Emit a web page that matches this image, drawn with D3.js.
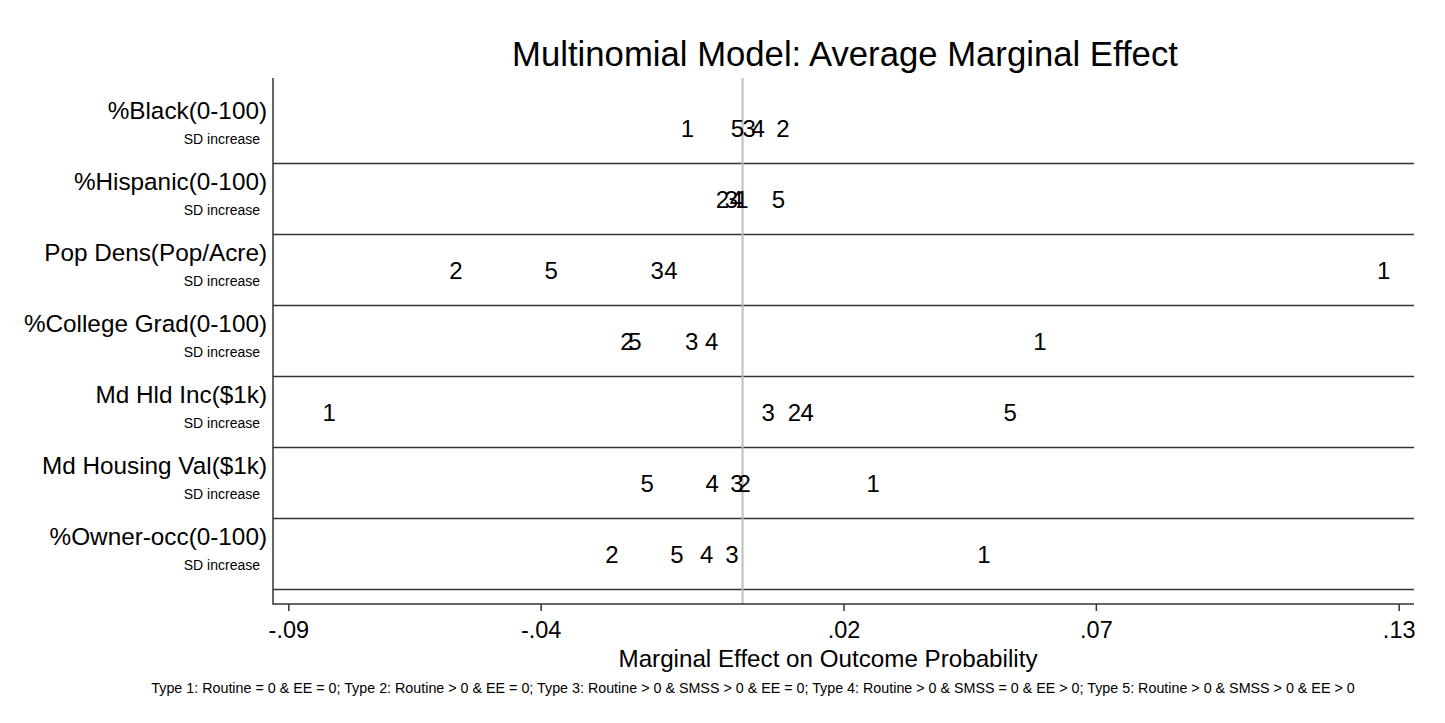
<!DOCTYPE html>
<html><head><meta charset="utf-8">
<script src="https://cdn.jsdelivr.net/npm/d3@7"></script>
<style>html,body{margin:0;padding:0;background:#fff;}svg{display:block;font-family:"Liberation Sans",Arial,Helvetica,sans-serif;}</style>
</head><body>
<svg id="chart" width="1445" height="723"></svg>
<script>
const rows = ["%Black(0-100)","%Hispanic(0-100)","Pop Dens(Pop/Acre)","%College Grad(0-100)","Md Hld Inc($1k)","Md Housing Val($1k)","%Owner-occ(0-100)"];
const subLabel = "SD increase";
const types = ["1","2","3","4","5"];
// marginal effects by row, for types 1..5
const type1 = [-0.0109, -0.0001, 0.1270, 0.0589, -0.0819, 0.0259, 0.0478];
const type2 = [0.0080, -0.0040, -0.0568, -0.0229, 0.0103, 0.0003, -0.0259];
const type3 = [0.0013, -0.0022, -0.0169, -0.0101, 0.0051, -0.0011, -0.0021];
const type4 = [0.0031, -0.0012, -0.0142, -0.0061, 0.0128, -0.0060, -0.0071];
const type5 = [-0.0010, 0.0071, -0.0379, -0.0213, 0.0530, -0.0189, -0.0130];
const xTicks = [-0.09, -0.04, 0.02, 0.07, 0.13];
const xTickLabels = ["-.09", "-.04", ".02", ".07", ".13"];
const title = "Multinomial Model: Average Marginal Effect";
const xTitle = "Marginal Effect on Outcome Probability";
const note = "Type 1: Routine = 0 & EE = 0; Type 2: Routine > 0 & EE = 0; Type 3: Routine > 0 & SMSS > 0 & EE = 0; Type 4: Routine > 0 & SMSS = 0 & EE > 0; Type 5: Routine > 0 & SMSS > 0 & EE > 0";

const series = [type1, type2, type3, type4, type5];
const svg = d3.select("#chart");
const plot = {left: 273, right: 1414, top: 78, bottom: 604};
const x = d3.scaleLinear().domain([-0.09, 0.13]).range([288.3, 1398.7]);
const y = d3.scaleBand().domain(rows).range([92.5, 589.5]);
const axisColor = "#333";

// title
svg.append("text").attr("x", 845).attr("y", 66).attr("text-anchor", "middle")
  .attr("font-size", 34.7).attr("fill", "#000").text(title);

// separators
svg.append("g").selectAll("line").data(rows).join("line")
  .attr("x1", plot.left).attr("x2", plot.right)
  .attr("y1", d => y(d) + y.bandwidth()).attr("y2", d => y(d) + y.bandwidth())
  .attr("stroke", axisColor).attr("stroke-width", 1.5);

// zero line
svg.append("line").attr("x1", x(0)).attr("x2", x(0)).attr("y1", plot.top).attr("y2", plot.bottom)
  .attr("stroke", "#bdbdbd").attr("stroke-width", 2);

// left axis line
svg.append("line").attr("x1", plot.left).attr("x2", plot.left).attr("y1", plot.top).attr("y2", plot.bottom + 0.75)
  .attr("stroke", axisColor).attr("stroke-width", 1.5);

// bottom axis
const xAxis = d3.axisBottom(x).tickValues(xTicks).tickSize(7).tickPadding(10)
  .tickFormat((d, i) => xTickLabels[i]);
const gx = svg.append("g").attr("transform", `translate(0,${plot.bottom})`).call(xAxis);
gx.select(".domain").remove();
gx.selectAll(".tick line").attr("stroke", axisColor).attr("stroke-width", 1.5);
gx.selectAll(".tick text").attr("font-size", 23.5).attr("fill", "#000")
  .attr("font-family", "Liberation Sans, Arial, sans-serif").attr("dy", null).attr("y", 34);
svg.append("line").attr("x1", plot.left).attr("x2", plot.right).attr("y1", plot.bottom).attr("y2", plot.bottom)
  .attr("stroke", axisColor).attr("stroke-width", 1.5);

// row labels
const rl = svg.append("g");
rows.forEach(r => {
  const c = y(r) + y.bandwidth() / 2;
  rl.append("text").attr("x", 267).attr("y", c - 9.5).attr("text-anchor", "end")
    .attr("font-size", 24.3).attr("fill", "#000").text(r);
  rl.append("text").attr("x", 260).attr("y", c + 15.5).attr("text-anchor", "end")
    .attr("font-size", 14).attr("fill", "#000").text(subLabel);
});

// marker labels
const pts = svg.append("g");
series.forEach((s, si) => {
  pts.selectAll(null).data(s.map((v, i) => ({v, r: rows[i]}))).join("text")
    .attr("x", d => x(d.v)).attr("y", d => y(d.r) + y.bandwidth() / 2 + 8.6)
    .attr("text-anchor", "middle").attr("font-size", 24).attr("fill", "#000")
    .text(types[si]);
});

// x title
svg.append("text").attr("x", 828).attr("y", 667).attr("text-anchor", "middle")
  .attr("font-size", 24.2).attr("fill", "#000").text(xTitle);

// note
svg.append("text").attr("x", 753).attr("y", 693).attr("text-anchor", "middle")
  .attr("font-size", 14.3).attr("fill", "#000").text(note);
</script>
</body></html>
